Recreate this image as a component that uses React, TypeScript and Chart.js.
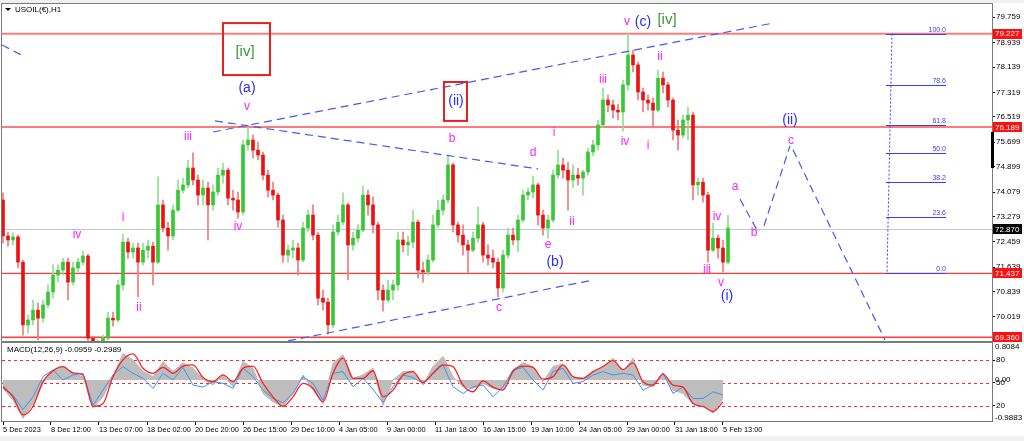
import React, { useEffect, useRef } from 'react';
import { Chart, registerables } from 'chart.js';

Chart.register(...registerables);

const FONT = '"Liberation Sans", Arial, sans-serif';

// ---- H1 candles (sampled) ----
const opens = [
  73.82, 72.65, 72.52, 72.62, 71.80, 69.76, 69.92, 70.24, 69.98, 70.41,
  70.83, 71.38, 71.54, 71.80, 71.15, 71.61, 71.80, 72.00, 69.33, 69.07,
  69.11, 69.33, 69.98, 69.92, 71.06, 72.45, 72.13, 72.26, 71.80, 72.19,
  72.32, 71.80, 73.66, 72.91, 72.65, 73.49, 74.14, 74.31, 74.86, 74.47,
  73.98, 74.21, 73.66, 74.08, 74.63, 74.79, 73.88, 73.82, 73.43, 75.61,
  75.77, 75.44, 75.28, 74.63, 74.14, 73.98, 73.17, 72.03, 72.19, 72.26,
  71.87, 72.91, 73.33, 72.68, 70.63, 70.50, 69.76, 72.78, 73.10, 73.66,
  72.36, 72.58, 72.84, 73.98, 73.66, 73.01, 70.89, 70.57, 70.89, 71.06,
  72.52, 72.36, 72.45, 73.10, 71.54, 71.48, 71.87, 73.01, 73.49, 73.82,
  74.96, 73.01, 72.68, 72.36, 72.19, 72.58, 73.01, 72.03, 71.93, 71.80,
  70.96, 72.03, 72.68, 72.52, 73.17, 73.98, 74.08, 74.31, 73.33, 72.91,
  73.17, 74.63, 74.96, 74.79, 74.47, 74.63, 74.53, 74.73, 75.38, 75.61,
  76.26, 77.07, 76.91, 76.74, 76.68, 77.56, 78.53, 78.21, 77.33, 77.07,
  76.97, 76.74, 77.78, 77.56, 77.07, 76.09, 75.93, 76.42, 76.58, 74.31,
  74.40, 73.98, 72.19, 72.58, 72.26, 71.80,
];
const highs = [
  74.05, 72.78, 72.75, 72.68, 71.87, 70.08, 70.57, 70.47, 70.57, 71.06,
  71.71, 71.71, 71.93, 71.93, 71.80, 71.93, 72.16, 72.06, 69.40, 69.27,
  69.43, 70.18, 70.18, 71.22, 72.71, 72.58, 72.42, 72.42, 72.42, 72.52,
  72.45, 74.57, 73.82, 73.10, 73.66, 74.47, 74.53, 75.12, 75.35, 74.63,
  74.47, 74.40, 74.31, 74.86, 75.02, 74.86, 74.14, 74.08, 75.77, 76.22,
  75.93, 75.70, 75.38, 74.79, 74.40, 74.05, 73.33, 72.36, 72.52, 72.42,
  73.10, 73.49, 73.66, 72.78, 70.89, 70.63, 73.01, 73.33, 74.05, 73.72,
  72.78, 73.01, 74.27, 74.14, 73.92, 73.10, 71.06, 71.22, 71.22, 72.78,
  72.78, 72.65, 73.49, 73.17, 71.80, 72.03, 73.33, 73.82, 73.98, 75.28,
  75.02, 73.10, 73.01, 72.52, 72.78, 73.59, 73.10, 72.36, 72.19, 71.93,
  72.19, 72.91, 72.91, 73.33, 74.14, 74.21, 74.60, 74.37, 73.49, 73.33,
  74.79, 75.44, 75.18, 75.05, 74.96, 74.86, 74.79, 75.51, 75.77, 76.42,
  77.46, 77.23, 77.07, 76.94, 77.72, 79.25, 78.69, 78.30, 77.46, 77.23,
  77.13, 78.04, 77.98, 77.65, 77.13, 76.42, 76.58, 76.84, 76.68, 74.53,
  74.53, 74.08, 73.07, 72.68, 72.52, 73.33,
];
const lows = [
  72.42, 72.32, 72.36, 71.61, 69.43, 69.50, 69.76, 69.27, 69.85, 70.31,
  70.63, 71.15, 71.38, 70.57, 71.06, 71.48, 71.71, 69.24, 68.94, 68.88,
  69.01, 69.27, 69.72, 69.85, 70.89, 71.93, 71.93, 70.67, 71.71, 71.93,
  71.06, 71.74, 72.78, 72.19, 72.52, 73.43, 74.05, 74.21, 74.31, 73.66,
  73.66, 72.52, 73.49, 73.98, 74.37, 73.66, 73.49, 73.23, 73.33, 75.44,
  75.18, 75.12, 74.47, 73.92, 73.82, 72.94, 71.80, 71.80, 71.93, 71.38,
  71.80, 72.78, 72.52, 70.41, 70.24, 69.46, 69.66, 72.68, 73.01, 71.22,
  72.19, 72.45, 72.78, 73.33, 72.75, 70.57, 70.21, 70.50, 70.57, 70.89,
  72.13, 72.03, 72.26, 71.28, 71.15, 71.38, 71.80, 72.91, 73.33, 73.72,
  72.78, 72.45, 72.03, 71.45, 72.13, 72.45, 71.80, 71.71, 71.61, 70.67,
  70.83, 71.93, 72.36, 72.13, 73.10, 73.82, 73.88, 73.01, 72.68, 72.58,
  73.10, 74.53, 74.53, 73.49, 74.21, 74.31, 73.98, 74.63, 75.25, 75.44,
  76.16, 76.68, 76.48, 76.42, 76.06, 77.39, 77.98, 77.07, 76.68, 76.74,
  76.16, 76.68, 77.30, 76.84, 75.77, 75.44, 75.83, 75.77, 73.82, 73.98,
  73.75, 71.80, 72.13, 71.93, 71.48, 71.74,
];
const closes = [
  72.65, 72.52, 72.62, 71.80, 69.76, 69.92, 70.24, 69.98, 70.41, 70.83,
  71.38, 71.54, 71.80, 71.15, 71.61, 71.80, 72.00, 69.33, 69.07, 69.11,
  69.33, 69.98, 69.92, 71.06, 72.45, 72.13, 72.26, 71.80, 72.19, 72.32,
  71.80, 73.66, 72.91, 72.65, 73.49, 74.14, 74.31, 74.86, 74.47, 73.98,
  74.21, 73.66, 74.08, 74.63, 74.79, 73.88, 73.82, 73.43, 75.61, 75.77,
  75.44, 75.28, 74.63, 74.14, 73.98, 73.17, 72.03, 72.19, 72.26, 71.87,
  72.91, 73.33, 72.68, 70.63, 70.50, 69.76, 72.78, 73.10, 73.66, 72.36,
  72.58, 72.84, 73.98, 73.66, 73.01, 70.89, 70.57, 70.89, 71.06, 72.52,
  72.36, 72.45, 73.10, 71.54, 71.48, 71.87, 73.01, 73.49, 73.82, 74.96,
  73.01, 72.68, 72.36, 72.19, 72.58, 73.01, 72.03, 71.93, 71.80, 70.96,
  72.03, 72.68, 72.52, 73.17, 73.98, 74.08, 74.31, 73.33, 72.91, 73.17,
  74.63, 74.96, 74.79, 74.47, 74.63, 74.53, 74.73, 75.38, 75.61, 76.26,
  77.07, 76.91, 76.74, 76.68, 77.56, 78.53, 78.21, 77.33, 77.07, 76.97,
  76.74, 77.78, 77.56, 77.07, 76.09, 75.93, 76.42, 76.58, 74.31, 74.40,
  73.98, 72.19, 72.58, 72.26, 71.80, 72.91,
];

const priceTicks = [79.759, 78.939, 78.139, 77.319, 76.519, 75.699, 74.899, 74.079, 73.279, 72.459, 71.639, 70.839, 70.019, 69.219];
const horizontalLevels = [79.227, 76.189, 71.437, 69.36];
const currentPrice = 72.87;

const timeLabels = ['5 Dec 2023', '8 Dec 12:00', '13 Dec 07:00', '18 Dec 02:00', '20 Dec 20:00', '26 Dec 15:00', '29 Dec 10:00', '4 Jan 05:00', '9 Jan 00:00', '11 Jan 18:00', '16 Jan 15:00', '19 Jan 10:00', '24 Jan 05:00', '29 Jan 00:00', '31 Jan 18:00', '5 Feb 13:00'];
const timeTickIndex = [0, 9.6, 19.2, 28.8, 38.4, 48, 57.6, 67.2, 76.8, 86.4, 96, 105.6, 115.2, 124.8, 134.4, 144];

// ---- MACD panel (every 2nd candle) ----
const macdMain = [
  -0.20, -0.48, -0.91, -0.56, -0.08, 0.24, 0.32, 0.16, 0.08, -0.67,
  -0.40, 0.08, 0.63, 0.48, 0.20, 0.08, 0.44, 0.20, 0.41, 0.28,
  0.02, -0.12, 0.12, -0.16, 0.44, 0.28, -0.32, -0.52, -0.63, -0.32,
  0.12, -0.24, -0.56, 0.40, 0.60, 0.04, 0.12, 0.28, -0.60, 0.00,
  0.20, 0.20, -0.12, 0.32, 0.56, 0.08, -0.16, -0.20, -0.08, -0.20,
  -0.24, 0.25, 0.41, 0.32, -0.04, 0.32, 0.38, 0.06, 0.04, 0.20,
  0.28, 0.52, 0.20, 0.52, -0.12, -0.16, 0.16, -0.24, -0.32, -0.56,
  -0.60, -0.79, -0.44,
];
const macdSignal = [
  -0.16, -0.40, -0.83, -0.63, -0.04, 0.22, 0.32, 0.17, 0.12, -0.63,
  -0.56, 0.08, 0.48, 0.62, 0.28, 0.16, 0.30, 0.16, 0.33, 0.36,
  0.06, -0.04, 0.12, -0.04, 0.28, 0.33, -0.08, -0.40, -0.63, -0.40,
  -0.08, -0.20, -0.52, 0.16, 0.52, 0.04, 0.04, 0.22, -0.40, -0.24,
  0.12, 0.20, -0.06, 0.16, 0.36, 0.32, -0.12, -0.28, -0.02, -0.17,
  -0.24, 0.20, 0.33, 0.30, 0.02, 0.08, 0.36, 0.08, 0.04, 0.20,
  0.32, 0.46, 0.25, 0.41, -0.04, -0.12, 0.14, -0.12, -0.17, -0.56,
  -0.63, -0.75, -0.52,
];
const oscLine = [
  -0.20, -0.36, -0.70, -0.40, 0.08, 0.24, 0.00, 0.12, 0.16, -0.60,
  -0.24, 0.12, 0.32, 0.16, 0.04, -0.20, 0.16, 0.00, 0.30, -0.12,
  -0.17, -0.04, -0.08, -0.20, 0.28, 0.08, -0.24, -0.44, -0.54, -0.32,
  0.08, -0.08, -0.48, 0.16, 0.20, -0.16, 0.04, -0.22, -0.54, -0.16,
  0.12, 0.06, -0.08, 0.16, 0.36, -0.16, -0.32, -0.16, -0.12, -0.40,
  -0.16, 0.24, 0.30, 0.00, -0.24, 0.20, 0.28, -0.08, -0.04, 0.12,
  0.20, 0.12, 0.16, 0.12, -0.24, -0.12, 0.16, -0.32, -0.16, -0.44,
  -0.44, -0.28, -0.36,
];
const macdStep = 2;
const oscLevels = [80, 50, 20];
const macdAxisValues = [0.8084, 0, -0.9883];
const macdAxisText = ['0.8084', '0.00', '-0.9883'];

// ---- Fibonacci retracement ----
const fibLow = 71.437;
const fibHigh = 79.227;
const fibRatios = [0, 23.6, 38.2, 50, 61.8, 78.6, 100];

// ---- Trend / channel lines: [index1, price1, index2, price2] ----
const trendLines = [
  [-0.2, 78.86, 4.4, 78.47],
  [42, 76.03, 154, 79.57],
  [42.4, 76.39, 107, 74.83],
  [57, 69.24, 118, 71.22],
];
const projectionLines = [
  [147.4, 73.85, 150.8, 72.84],
  [152.2, 72.98, 157.4, 75.58],
  [158, 75.45, 176.4, 69.27],
];

// ---- Elliott wave labels: [text, index, price, kind] ----
const waveLabels: any[] = [
  ['iv', 14.8, 72.68, 'm'], ['i', 24, 73.23, 'm'], ['ii', 27.2, 70.31, 'm'], ['iii', 37, 75.87, 'm'],
  ['iv', 47, 72.94, 'm'], ['v', 48.8, 76.84, 'm'], ['(a)', 48.8, 77.46, 'b'], ['[iv]', 48.4, 78.63, 'g'],
  ['b', 89.8, 75.80, 'm'], ['(ii)', 90.6, 77.04, 'b'], ['c', 99.2, 70.31, 'm'], ['d', 106, 75.35, 'm'],
  ['e', 109, 72.36, 'm'], ['(b)', 110.4, 71.80, 'b'], ['i', 110.2, 76.00, 'm'], ['ii', 113.8, 73.10, 'm'],
  ['iii', 120, 77.72, 'm'], ['iv', 124.4, 75.70, 'm'], ['v', 124.8, 79.60, 'm'], ['(c)', 128, 79.60, 'b'],
  ['[iv]', 132.8, 79.67, 'g'], ['i', 129, 75.57, 'm'], ['ii', 131.4, 78.47, 'm'], ['iv', 142.8, 73.27, 'm'],
  ['iii', 140.8, 71.55, 'm'], ['v', 143.6, 71.12, 'm'], ['(i)', 144.8, 70.70, 'b'], ['a', 146.4, 74.24, 'm'],
  ['b', 150.2, 72.75, 'm'], ['c', 157.6, 75.74, 'm'], ['(ii)', 157.4, 76.42, 'b'],
];
// label boxes: [index1, price1, index2, price2]
const labelBoxes = [
  [44, 79.57, 53.4, 77.88],
  [88.2, 77.655, 92.8, 76.39],
];

const X_MIN = -0.2;
const X_MAX = 197.8;
const Y_MIN = 69.205;
const Y_MAX = 80.1575;

const LABEL_STYLE: any = {
  m: { color: '#ff22ff', size: 12 },
  b: { color: '#2b2bff', size: 14 },
  g: { color: '#3a9a3a', size: 15 },
};

function zeroPad(s: any) {
  s.paddingLeft = 0; s.paddingRight = 0; s.paddingTop = 0; s.paddingBottom = 0;
}

const mainOverlay = {
  id: 'mainOverlay',
  beforeDraw(chart: any) {
    const { ctx, width, height } = chart;
    ctx.save();
    ctx.fillStyle = '#ffffff';
    ctx.fillRect(0, 0, width, height);
    ctx.fillStyle = '#f0f0f0';
    ctx.fillRect(0, 0, width, 3);
    ctx.restore();
  },
  beforeDatasetsDraw(chart: any) {
    const { ctx, chartArea: a, scales } = chart;
    const y = scales.y;
    ctx.save();
    ctx.beginPath();
    ctx.rect(a.left, a.top, a.right - a.left, a.bottom - a.top);
    ctx.clip();
    const cy = Math.round(y.getPixelForValue(currentPrice)) + 0.5;
    ctx.strokeStyle = '#c8c8c8';
    ctx.lineWidth = 1;
    ctx.beginPath(); ctx.moveTo(a.left, cy); ctx.lineTo(a.right, cy); ctx.stroke();
    horizontalLevels.forEach((p, i) => {
      const py = y.getPixelForValue(p);
      ctx.strokeStyle = i < 2 ? '#ff7b7b' : '#ff3a3a';
      ctx.lineWidth = i < 2 ? 2 : 1.3;
      ctx.beginPath(); ctx.moveTo(a.left, py); ctx.lineTo(a.right, py); ctx.stroke();
    });
    ctx.restore();
  },
  afterDatasetsDraw(chart: any) {
    const { ctx, chartArea: a, scales } = chart;
    const x = scales.x, y = scales.y;
    const px = (v: number) => x.getPixelForValue(v);
    const py = (v: number) => y.getPixelForValue(v);
    ctx.save();
    ctx.beginPath();
    ctx.rect(a.left, a.top, a.right - a.left, a.bottom - a.top);
    ctx.clip();
    // dashed trend lines
    ctx.strokeStyle = '#4a58f0';
    ctx.lineWidth = 1.2;
    ctx.setLineDash([8, 5]);
    [...trendLines, ...projectionLines].forEach((l) => {
      ctx.beginPath();
      ctx.moveTo(px(l[0]), py(l[1]));
      ctx.lineTo(px(l[2]), py(l[3]));
      ctx.stroke();
    });
    // fibonacci
    ctx.strokeStyle = '#3c3cff';
    ctx.lineWidth = 1;
    ctx.setLineDash([2, 2]);
    ctx.beginPath();
    ctx.moveTo(px(177.8), py(fibHigh));
    ctx.lineTo(px(176.8), py(fibLow));
    ctx.stroke();
    ctx.setLineDash([]);
    ctx.fillStyle = '#3c3cff';
    ctx.font = `7px ${FONT}`;
    ctx.textAlign = 'right';
    ctx.textBaseline = 'bottom';
    fibRatios.forEach((r) => {
      const p = fibLow + (fibHigh - fibLow) * r / 100;
      const yy = Math.round(py(p)) + 0.5;
      ctx.beginPath();
      ctx.moveTo(px(176.6), yy);
      ctx.lineTo(px(188.6), yy);
      ctx.stroke();
      ctx.fillText(r.toFixed(1), px(188.6), yy - 1);
    });
    // label boxes
    ctx.strokeStyle = '#e82020';
    ctx.lineWidth = 2;
    labelBoxes.forEach((b) => {
      const x1 = px(b[0]), y1 = py(b[1]), x2 = px(b[2]), y2 = py(b[3]);
      ctx.strokeRect(x1, y1, x2 - x1, y2 - y1);
    });
    // wave labels
    ctx.textAlign = 'center';
    ctx.textBaseline = 'middle';
    waveLabels.forEach((l) => {
      const st = LABEL_STYLE[l[3]];
      ctx.fillStyle = st.color;
      ctx.font = `${st.size}px ${FONT}`;
      ctx.fillText(l[0], px(l[1]), py(l[2]));
    });
    ctx.restore();
  },
  afterDraw(chart: any) {
    const { ctx, scales } = chart;
    const y = scales.y;
    ctx.save();
    // frame
    ctx.strokeStyle = '#7a7a7a';
    ctx.lineWidth = 1;
    ctx.strokeRect(1.5, 3.5, 991, 338);
    // title
    ctx.fillStyle = '#000';
    ctx.beginPath();
    ctx.moveTo(5, 8); ctx.lineTo(11, 8); ctx.lineTo(8, 11); ctx.closePath(); ctx.fill();
    ctx.font = `8px ${FONT}`;
    ctx.textAlign = 'left';
    ctx.textBaseline = 'middle';
    ctx.fillText('USOIL(€),H1', 15, 9.5);
    // scroll marker on axis
    ctx.fillRect(991, 132, 3, 36);
    // price badges
    const badge = (p: number, bg: string) => {
      const yy = y.getPixelForValue(p);
      ctx.fillStyle = bg;
      ctx.fillRect(993, Math.round(yy) - 5, 29, 10);
      ctx.fillStyle = '#fff';
      ctx.fillText(p.toFixed(3), 995, yy + 0.5);
    };
    horizontalLevels.forEach((p) => badge(p, '#ff1010'));
    badge(currentPrice, '#000000');
    ctx.restore();
  },
};

const macdOverlay = {
  id: 'macdOverlay',
  beforeDraw(chart: any) {
    const { ctx, width, height } = chart;
    ctx.save();
    ctx.fillStyle = '#ffffff';
    ctx.fillRect(0, 0, width, height);
    ctx.fillStyle = '#f0f0f0';
    ctx.fillRect(0, height - 5, width, 5);
    ctx.restore();
  },
  beforeDatasetsDraw(chart: any) {
    const { ctx, chartArea: a, scales } = chart;
    const yL = scales.yL;
    ctx.save();
    ctx.strokeStyle = '#ff2a2a';
    ctx.lineWidth = 1;
    ctx.setLineDash([3, 3]);
    oscLevels.forEach((v) => {
      const yy = Math.round(yL.getPixelForValue(v)) + 0.5;
      ctx.beginPath(); ctx.moveTo(a.left, yy); ctx.lineTo(a.right, yy); ctx.stroke();
    });
    ctx.restore();
  },
  afterDraw(chart: any) {
    const { ctx, chartArea: a, scales } = chart;
    const yM = scales.yM;
    ctx.save();
    ctx.strokeStyle = '#7a7a7a';
    ctx.lineWidth = 1;
    ctx.strokeRect(1.5, 0.5, 991, a.bottom);
    ctx.fillStyle = '#000';
    ctx.font = `8px ${FONT}`;
    ctx.textAlign = 'left';
    ctx.textBaseline = 'middle';
    ctx.fillText('MACD(12,26,9) -0.0959 -0.2989', 7, 8);
    macdAxisValues.forEach((v, i) => {
      let yy = yM.getPixelForValue(v);
      yy = Math.max(a.top + 4, Math.min(a.bottom - 3, yy));
      ctx.fillText(macdAxisText[i], 995, yy);
    });
    ctx.restore();
  },
};

export default function App() {
  const mainRef = useRef<HTMLCanvasElement | null>(null);
  const macdRef = useRef<HTMLCanvasElement | null>(null);

  useEffect(() => {
    document.body.style.margin = '0';
    const upBody = '#35c935', downBody = '#ee1111';
    const upWick = '#8ee08e', downWick = '#f27a7a';
    const isUp = closes.map((c, i) => c >= opens[i]);

    const main = new Chart(mainRef.current as any, {
      type: 'bar',
      data: {
        datasets: [
          {
            label: 'body',
            data: closes.map((c, i) => ({ x: i, y: [opens[i], c] })) as any,
            backgroundColor: isUp.map((u) => (u ? upBody : downBody)),
            barThickness: 3,
            minBarLength: 1,
            grouped: false,
            borderWidth: 0,
            clip: 0 as any,
          },
          {
            label: 'wick',
            data: highs.map((h, i) => ({ x: i, y: [lows[i], h] })) as any,
            backgroundColor: isUp.map((u) => (u ? upWick : downWick)),
            barThickness: 1,
            grouped: false,
            borderWidth: 0,
            clip: 0 as any,
          },
        ],
      },
      options: {
        animation: false,
        responsive: false,
        devicePixelRatio: 1,
        events: [],
        layout: { padding: { left: 2, top: 5, right: 0, bottom: 0 } },
        plugins: { legend: { display: false }, tooltip: { enabled: false } },
        scales: {
          x: { type: 'linear', min: X_MIN, max: X_MAX, display: false, offset: false },
          y: {
            position: 'right',
            min: Y_MIN,
            max: Y_MAX,
            beginAtZero: false,
            afterFit: (s: any) => { s.width = 32; zeroPad(s); },
            afterBuildTicks: (s: any) => { s.ticks = priceTicks.map((v) => ({ value: v })); },
            ticks: {
              autoSkip: false,
              padding: 1,
              color: '#000',
              font: { size: 8, family: FONT },
              callback: (v: any) => Number(v).toFixed(3),
            },
            grid: { drawOnChartArea: false, tickLength: 3, color: '#000' },
            border: { color: '#555' },
          },
        },
      } as any,
      plugins: [mainOverlay],
    });

    const xs = macdMain.map((_, j) => j * macdStep);
    const macd = new Chart(macdRef.current as any, {
      type: 'line',
      data: {
        datasets: [
          {
            label: 'signal',
            data: macdSignal.map((v, j) => ({ x: xs[j], y: v })),
            borderColor: '#ff2020',
            borderWidth: 1.3,
            pointRadius: 0,
            yAxisID: 'yM',
            order: 0,
            cubicInterpolationMode: 'monotone',
          },
          {
            label: 'osc',
            data: oscLine.map((v, j) => ({ x: xs[j], y: v })),
            borderColor: '#3d95f2',
            borderWidth: 1,
            pointRadius: 0,
            yAxisID: 'yM',
            order: 1,
          },
          {
            label: 'macd',
            data: macdMain.map((v, j) => ({ x: xs[j], y: v })),
            borderColor: '#b9b9b9',
            backgroundColor: '#bdbdbd',
            borderWidth: 1,
            pointRadius: 0,
            fill: 'origin',
            yAxisID: 'yM',
            order: 2,
          },
        ],
      },
      options: {
        animation: false,
        responsive: false,
        devicePixelRatio: 1,
        events: [],
        layout: { padding: { left: 2, top: 1, right: 0, bottom: 0 } },
        plugins: { legend: { display: false }, tooltip: { enabled: false } },
        scales: {
          x: {
            type: 'linear',
            min: X_MIN,
            max: X_MAX,
            position: 'bottom',
            afterFit: (s: any) => { s.height = 20; zeroPad(s); },
            afterBuildTicks: (s: any) => { s.ticks = timeTickIndex.map((v) => ({ value: v })); },
            ticks: {
              autoSkip: false,
              maxRotation: 0,
              minRotation: 0,
              align: 'start',
              padding: 1,
              color: '#000',
              font: { size: 7.4, family: FONT },
              callback: (_v: any, i: number) => timeLabels[i],
            },
            grid: { drawOnChartArea: false, tickLength: 4, color: '#000' },
            border: { color: '#7a7a7a' },
          },
          yM: { position: 'right', display: false, min: -0.976, max: 0.881 },
          yL: {
            position: 'right',
            min: 0,
            max: 102.3,
            afterFit: (s: any) => { s.width = 32; zeroPad(s); },
            afterBuildTicks: (s: any) => { s.ticks = oscLevels.map((v) => ({ value: v })); },
            ticks: { autoSkip: false, padding: 1, color: '#000', font: { size: 8, family: FONT } },
            grid: { drawOnChartArea: false, tickLength: 3, color: '#000' },
            border: { color: '#555' },
          },
        },
      } as any,
      plugins: [macdOverlay],
    });

    return () => {
      main.destroy();
      macd.destroy();
    };
  }, []);

  return (
    <div style={{ position: 'relative', width: 1024, height: 441, background: '#fff', overflow: 'hidden' }}>
      <canvas ref={mainRef} width={1024} height={342} style={{ position: 'absolute', left: 0, top: 0, display: 'block' }} />
      <canvas ref={macdRef} width={1024} height={99} style={{ position: 'absolute', left: 0, top: 342, display: 'block' }} />
    </div>
  );
}
